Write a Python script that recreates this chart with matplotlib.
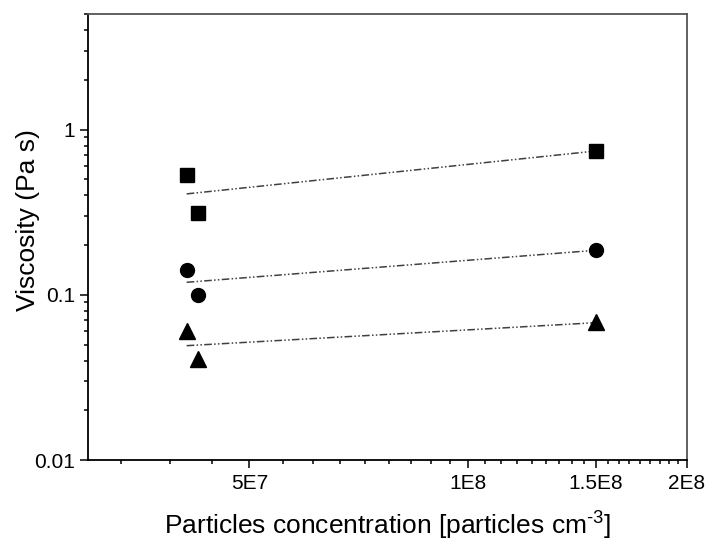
import matplotlib
matplotlib.use("Agg")
import matplotlib.pyplot as plt
from matplotlib.ticker import FixedLocator, FixedFormatter, MultipleLocator, NullFormatter, LogLocator

plt.rcParams["font.family"] = ["Liberation Sans", "DejaVu Sans"]
plt.rcParams["mathtext.fontset"] = "custom"
plt.rcParams["mathtext.rm"] = "Liberation Sans"
plt.rcParams["mathtext.it"] = "Liberation Sans"

# data
conc = [4.1e7, 4.25e7, 1.5e8]
visc_square = [0.534, 0.313, 0.746]
visc_circle = [0.142, 0.100, 0.187]
visc_triangle = [0.060, 0.0408, 0.068]

# fitted trend lines (end points)
fit_x = [4.1e7, 1.5e8]
fit_square = [0.408, 0.742]
fit_circle = [0.119, 0.186]
fit_triangle = [0.0492, 0.0678]

x_ticks = [5e7, 1e8, 1.5e8, 2e8]
x_labels = ["5E7", "1E8", "1.5E8", "2E8"]
y_ticks = [0.01, 0.1, 1]
y_labels = ["0.01", "0.1", "1"]

fig = plt.figure(figsize=(7.1, 5.41), dpi=100)
ax = fig.add_axes([0.124, 0.1497, 0.8436, 0.8243])

dash = (0, (5, 1.5, 1, 1.5, 1, 1.5))
for fy in [fit_square, fit_circle, fit_triangle]:
    ax.plot(fit_x, fy, color="#404040", lw=1.1, linestyle=dash)

ax.plot(conc, visc_square, "s", color="black", ms=9.5, ls="none")
ax.plot(conc, visc_circle, "o", color="black", ms=10, ls="none")
ax.plot(conc, visc_triangle, "^", color="black", ms=12, ls="none")

ax.set_xscale("log")
ax.set_yscale("log")
ax.set_xlim(3e7, 2e8)
ax.set_ylim(0.01, 5)

ax.xaxis.set_major_locator(FixedLocator(x_ticks))
ax.xaxis.set_major_formatter(FixedFormatter(x_labels))
ax.xaxis.set_minor_locator(MultipleLocator(5e7 / 9))
ax.xaxis.set_minor_formatter(NullFormatter())
ax.yaxis.set_major_locator(FixedLocator(y_ticks))
ax.yaxis.set_major_formatter(FixedFormatter(y_labels))
ax.yaxis.set_minor_locator(LogLocator(base=10, subs=range(2, 10)))
ax.yaxis.set_minor_formatter(NullFormatter())

ax.tick_params(which="both", direction="out", top=False, right=False, width=1.1, labelsize=15)
ax.tick_params(which="major", length=6)
ax.tick_params(which="minor", length=3)
ax.tick_params(axis="x", pad=4)

for side in ["left", "bottom"]:
    ax.spines[side].set_linewidth(1.3)
    ax.spines[side].set_color("black")
for side in ["top", "right"]:
    ax.spines[side].set_linewidth(1.3)
    ax.spines[side].set_color("#555555")

ax.set_xlabel("Particles concentration [particles cm$^{\\text{-3}}$]", fontsize=19, labelpad=12)
ax.set_ylabel("Viscosity (Pa s)", fontsize=19)
ax.yaxis.set_label_coords(-0.08, 0.538)

fig.savefig("out.png", dpi=100)
